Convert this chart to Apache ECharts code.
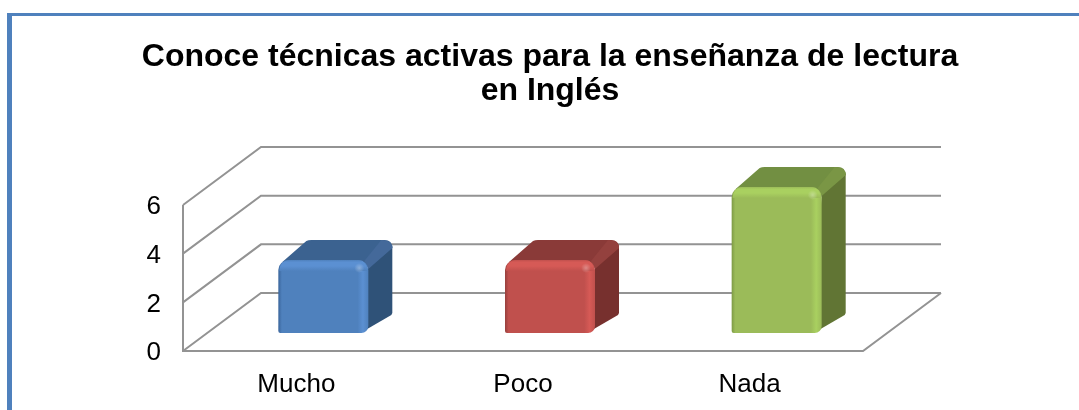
<!DOCTYPE html>
<html><head><meta charset="utf-8">
<style>html,body{margin:0;padding:0;background:#fff;overflow:hidden}
#c{position:absolute;left:0;top:0;width:1079px;height:410px}
#f{position:absolute;left:7px;top:13px;right:0;bottom:0;border-left:5px solid #4f81bd;border-top:3px solid #4f81bd}</style>
<script src="https://cdn.jsdelivr.net/npm/echarts@6/dist/echarts.min.js"></script>
</head><body><div id="f"></div><div id="c"></div>
<script>
const titleText = "Conoce técnicas activas para la enseñanza de lectura\nen Inglés";
const categories = ["Mucho", "Poco", "Nada"];
const values = [3, 3, 6];
const yTicks = [0, 2, 4, 6];
const faceColors = ["#4f81bd", "#c0504d", "#9bbb59"];
const lightColors = ["#5b90d2", "#d65a56", "#a9d060"];
const edgeColors = ["#3a659b", "#96403d", "#7d9a45"];
const topColors = ["#3b6290", "#8a3a38", "#728f42"];
const sideColors = ["#2f5278", "#77302e", "#617534"];
const cornerColors = ["#44699a", "#94413e", "#7a9645"];

const WALL_DX = 78, WALL_DY = 58, BAR_DX = 24, BAR_DY = 20, OFF_X = 27, OFF_Y = 18, BAR_W = 90;
const GRID_COLOR = "#939393";

function renderWalls(params, api) {
  const r = params.coordSys;
  const y = api.coord([0, api.value(1)])[1];
  const lineStyle = {stroke: GRID_COLOR, lineWidth: 2, fill: null};
  const kids = [{type: "polyline", shape: {points: [[r.x, y], [r.x + WALL_DX, y - WALL_DY], [r.x + r.width + WALL_DX, y - WALL_DY]]}, style: lineStyle}];
  if (api.value(1) === 0) {
    kids.push({type: "polyline", shape: {points: [[r.x, r.y], [r.x, y], [r.x + r.width, y], [r.x + r.width + WALL_DX, y - WALL_DY]]}, style: lineStyle});
  }
  return {type: "group", children: kids};
}

function pathEl(points, d, fill) {
  const xs = points.map(p => p[0]), ys = points.map(p => p[1]);
  const x = Math.min(...xs), y = Math.min(...ys);
  return {type: "path", shape: {pathData: d, x, y, width: Math.max(...xs) - x, height: Math.max(...ys) - y, layout: "cover"}, style: {fill}};
}

function renderBar(params, api) {
  const i = api.value(0);
  const c = api.coord([i, api.value(1)]);
  const base = api.coord([i, 0]);
  const x0 = c[0] + OFF_X - BAR_W / 2, x1 = x0 + BAR_W;
  const yt = c[1] - OFF_Y, yb = base[1] - OFF_Y;
  const dx = BAR_DX, dy = BAR_DY, rr = 10;
  const kids = [];
  const sideD = `M${x1 - 8} ${yb} L${x1 + dx - 1} ${yb - dy + 2} L${x1 + dx} ${yb - dy} L${x1 + dx} ${yt - dy + 6} L${x1} ${yt + 6} Z`;
  kids.push(pathEl([[x1 - 8, yb], [x1 + dx, yt - dy + 6]], sideD, sideColors[i]));
  const topD = `M${x0 + 4} ${yt + 2} L${x0 + dx + 4} ${yt - dy + 1} Q${x0 + dx + 6} ${yt - dy} ${x0 + dx + 9} ${yt - dy} L${x1 + dx - 8} ${yt - dy} Q${x1 + dx} ${yt - dy} ${x1 + dx} ${yt - dy + 8} L${x1} ${yt + 8} L${x1 - 6} ${yt + 2} Z`;
  kids.push(pathEl([[x0 + 4, yt - dy], [x1 + dx, yt + 8]], topD, topColors[i]));
  const cornerD = `M${x1 - 4} ${yt + 1} L${x1 + dx - 11} ${yt - dy} Q${x1 + dx} ${yt - dy} ${x1 + dx} ${yt - dy + 8} L${x1} ${yt + 9} Z`;
  kids.push(pathEl([[x1 - 4, yt - dy], [x1 + dx, yt + 9]], cornerD, cornerColors[i]));
  kids.push({type: "rect", shape: {x: x0, y: yt, width: BAR_W, height: yb - yt, r: [rr, rr, 7, 2]},
    style: {fill: {type: "linear", x: 0, y: 0, x2: 1, y2: 0, colorStops: [
      {offset: 0, color: edgeColors[i]}, {offset: 0.04, color: faceColors[i]},
      {offset: 0.88, color: faceColors[i]}, {offset: 0.94, color: lightColors[i]},
      {offset: 1, color: faceColors[i]}]}}});
  kids.push({type: "rect", shape: {x: x0 + 1, y: yt, width: BAR_W - 2, height: 11, r: [rr, rr, 0, 0]},
    style: {fill: {type: "linear", x: 0, y: 0, x2: 0, y2: 1, colorStops: [
      {offset: 0, color: faceColors[i]}, {offset: 0.2, color: lightColors[i]},
      {offset: 0.55, color: lightColors[i]}, {offset: 1, color: faceColors[i]}]}}});
  kids.push({type: "circle", shape: {cx: x1 - 9, cy: yt + 8, r: 5},
    style: {fill: {type: "radial", x: 0.5, y: 0.5, r: 0.5, colorStops: [
      {offset: 0, color: "rgba(255,255,255,0.3)"}, {offset: 1, color: "rgba(255,255,255,0)"}]}}});
  return {type: "group", children: kids};
}

const chart = echarts.init(document.getElementById("c"), null, {renderer: "canvas"});
const fontFamily = "'Liberation Sans', Arial, sans-serif";
chart.setOption({
  animation: false,
  backgroundColor: "transparent",
  title: {text: titleText, left: 545, top: 35, textAlign: "center",
    textStyle: {fontFamily, fontSize: 32, fontWeight: "bold", color: "#000", lineHeight: 34}},
  grid: {left: 183, top: 205, width: 680, height: 146, containLabel: false},
  xAxis: {type: "category", data: categories, axisLine: {show: false}, axisTick: {show: false},
    axisLabel: {color: "#000", fontFamily, fontSize: 26, margin: 21}},
  yAxis: {type: "value", min: 0, max: 6, interval: 2, axisLine: {show: false}, axisTick: {show: false},
    splitLine: {show: false}, axisLabel: {margin: 22, formatter: "{n|{value}}",
      rich: {n: {color: "#000", fontFamily, fontSize: 26, padding: [4, 0, 0, 0]}}}},
  series: [
    {type: "custom", silent: true, clip: false, z: 1, renderItem: renderWalls, data: yTicks.map(t => [0, t])},
    {type: "custom", silent: true, clip: false, z: 2, renderItem: renderBar, data: values.map((v, i) => [i, v])}
  ]
});
</script></body></html>
